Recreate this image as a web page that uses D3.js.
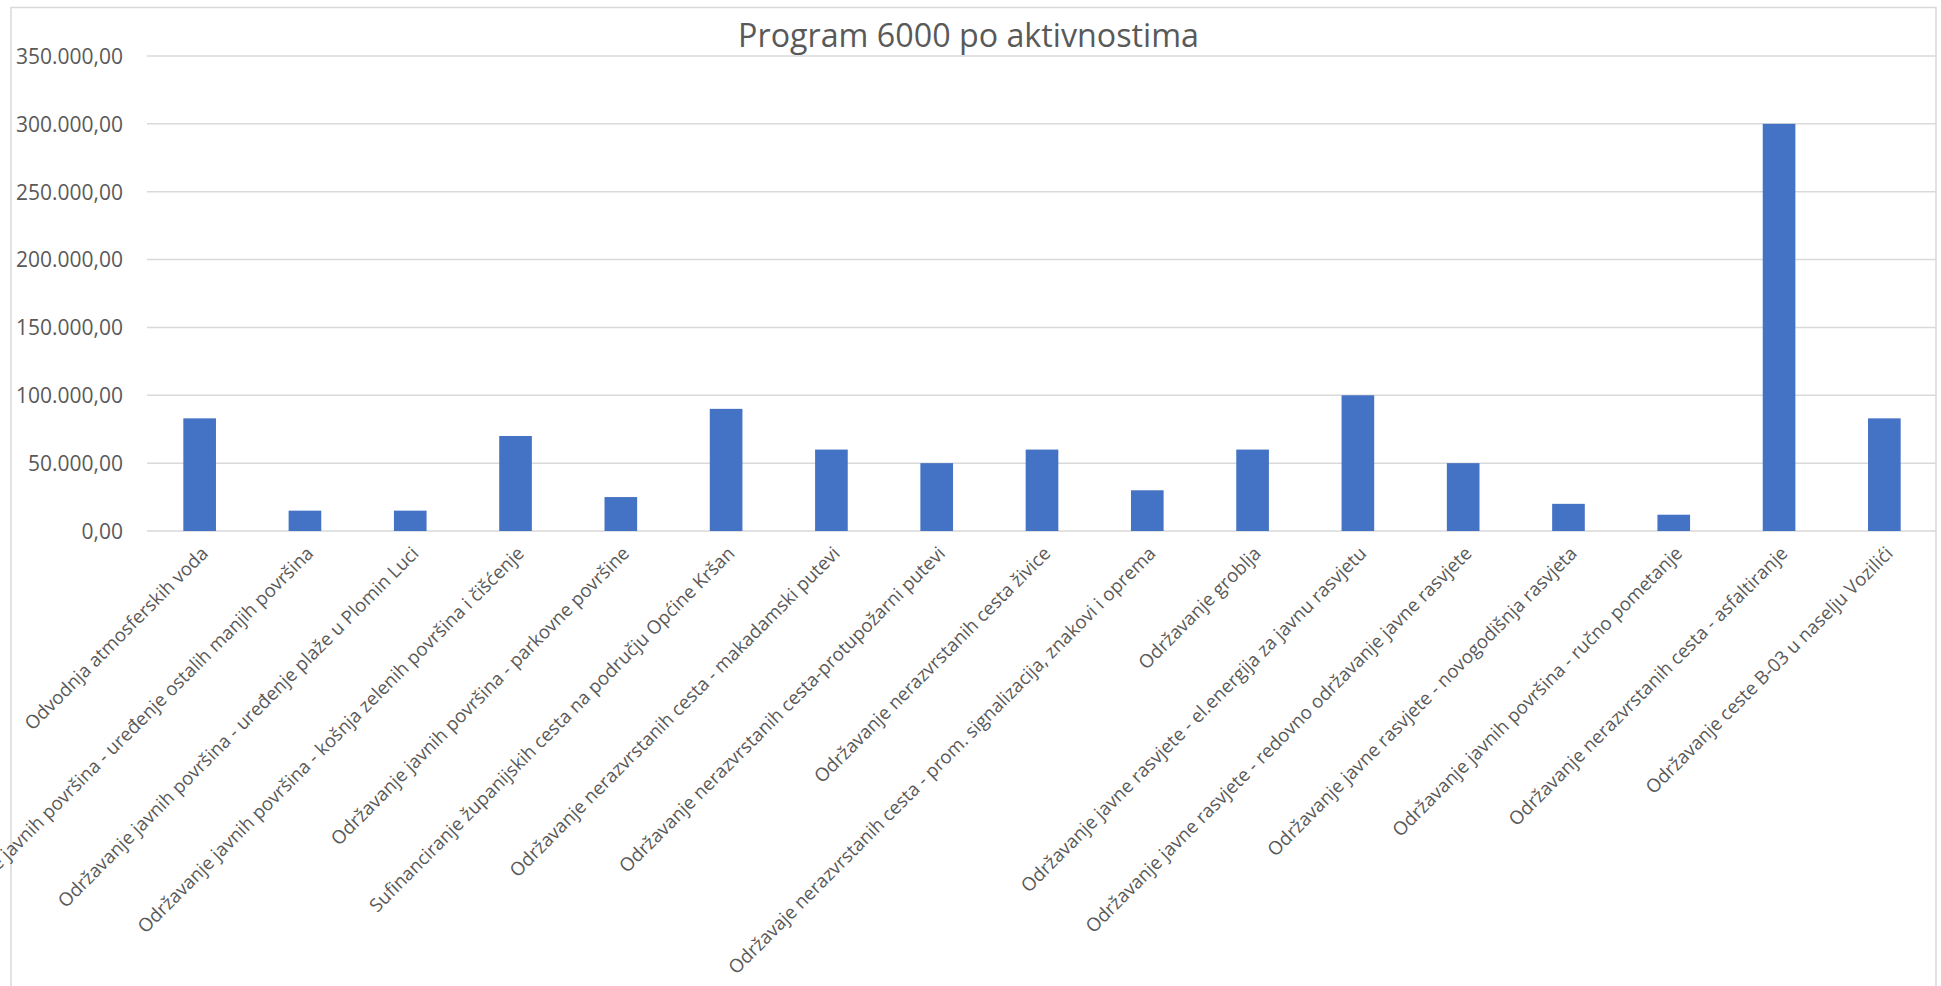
<!DOCTYPE html>
<html>
<head>
<meta charset="utf-8">
<script src="https://cdn.jsdelivr.net/npm/d3@7/dist/d3.min.js"></script>
<style>
  html, body { margin: 0; padding: 0; background: #fff; overflow: hidden; }
  svg { display: block; }
  text { font-family: "Open Sans", "Noto Sans", sans-serif; fill: #595959; }
</style>
</head>
<body>
<svg id="chart" width="1941" height="986"></svg>
<script>
const title = "Program 6000 po aktivnostima";
const categories = [
  "Odvodnja atmosferskih voda",
  "Održavanje javnih površina - uređenje ostalih manjih površina",
  "Održavanje javnih površina - uređenje plaže u Plomin Luci",
  "Održavanje javnih površina - košnja zelenih površina i čišćenje",
  "Održavanje javnih površina - parkovne površine",
  "Sufinanciranje županijskih cesta na području Općine Kršan",
  "Održavanje nerazvrstanih cesta - makadamski putevi",
  "Održavanje nerazvrstanih cesta-protupožarni putevi",
  "Održavanje nerazvrstanih cesta živice",
  "Održavaje nerazvrstanih cesta - prom. signalizacija, znakovi i oprema",
  "Održavanje groblja",
  "Održavanje javne rasvjete - el.energija za javnu rasvjetu",
  "Održavanje javne rasvjete - redovno održavanje javne rasvjete",
  "Održavanje javne rasvjete - novogodišnja rasvjeta",
  "Održavanje javnih površina - ručno pometanje",
  "Održavanje nerazvrstanih cesta - asfaltiranje",
  "Održavanje ceste B-03 u naselju Vozilići"
];
const values = [83000, 15000, 15000, 70000, 25000, 90000, 60000, 50000, 60000, 30000, 60000, 100000, 50000, 20000, 12000, 300000, 83000];
const yTicks = [0, 50000, 100000, 150000, 200000, 250000, 300000, 350000];

const svg = d3.select("#chart");

// chart frame
svg.append("rect")
  .attr("x", 11).attr("y", 7.5)
  .attr("width", 1925).attr("height", 1000)
  .attr("fill", "#fff").attr("stroke", "#d9d9d9").attr("stroke-width", 1.5);

const x = d3.scaleBand().domain(categories).range([147, 1937]).paddingInner(0.69).paddingOuter(0.345);
const y = d3.scaleLinear().domain([0, 350000]).range([531, 56]);

// number formatting: 350.000,00
const loc = d3.formatLocale({decimal: ",", thousands: ".", grouping: [3], currency: ["", ""]});
const fmt = loc.format(",.2f");

// fit font size helper
function fitSize(str, target) {
  const t = svg.append("text").attr("font-size", 100).text(str);
  const w = t.node().getComputedTextLength();
  t.remove();
  return 100 * target / w;
}
const titleSize = fitSize(title, 461);
const ySize = fitSize(fmt(350000), 107);
const xSize = fitSize(categories[0], 250);

// gridlines
svg.append("g")
  .selectAll("line").data(yTicks).join("line")
  .attr("x1", 147).attr("x2", 1936)
  .attr("y1", d => y(d)).attr("y2", d => y(d))
  .attr("stroke", "#d9d9d9").attr("stroke-width", 1.5);

// y axis labels
const yAxis = d3.axisLeft(y).tickValues(yTicks).tickFormat(fmt).tickSize(0).tickPadding(24);
const gy = svg.append("g").attr("transform", "translate(147,0)").call(yAxis);
gy.select(".domain").remove();
gy.selectAll("text").attr("font-size", ySize).attr("font-family", '"Open Sans", sans-serif').attr("fill", "#595959").attr("dy", "0.35em");

// bars
svg.append("g").selectAll("rect").data(values).join("rect")
  .attr("x", (d, i) => x(categories[i]))
  .attr("width", x.bandwidth())
  .attr("y", d => y(d))
  .attr("height", d => y(0) - y(d))
  .attr("fill", "#4472c4");

// x axis labels (rotated)
const xAxis = d3.axisBottom(x).tickSize(0).tickPadding(0);
const gx = svg.append("g").attr("transform", "translate(0,531)").call(xAxis);
gx.select(".domain").remove();
gx.selectAll(".tick text")
  .attr("font-size", xSize)
  .attr("font-family", '"Open Sans", sans-serif')
  .attr("fill", "#595959")
  .attr("text-anchor", "end")
  .attr("y", 0).attr("dy", "0.35em")
  .attr("transform", "translate(5,19) rotate(-45)");

// title
svg.append("text")
  .attr("x", 968.5).attr("y", 47)
  .attr("text-anchor", "middle")
  .attr("font-size", titleSize)
  .text(title);
</script>
</body>
</html>
